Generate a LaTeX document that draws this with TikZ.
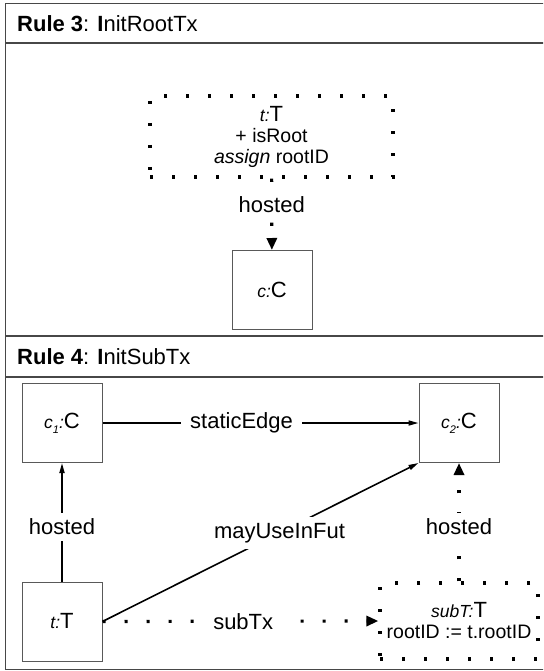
\documentclass[tikz,border=0pt]{standalone}
\usepackage{fontspec}
\setmainfont{Liberation Sans}
\usetikzlibrary{arrows.meta}

% object name: small italic prefix, larger type letter
\newcommand\objnm[2]{{\fontsize{17.5}{20}\selectfont\itshape #1}{\fontsize{22}{24}\selectfont #2}}
\newcommand\subidx[1]{\raisebox{-5pt}{\fontsize{11}{11}\selectfont\itshape #1}}

\tikzset{
  frame/.style={draw=black!72, line width=1.5pt},
  objbox/.style={draw=black!65, line width=1pt, minimum width=80pt, minimum height=79pt,
    inner sep=0pt},
  newbox/.style={draw=black, line width=3.2pt, dash pattern=on 3.2pt off 18.8pt,
    inner sep=0pt, align=center, font=\fontsize{19.5}{21}\selectfont},
  edge/.style={draw=black, line width=1.6pt, -{Triangle[length=10pt,width=5pt]}},
  newedge/.style={draw=black, line width=3.2pt, dash pattern=on 3.2pt off 18.8pt,
    -{Triangle[length=12pt,width=10pt]}},
  lbl/.style={fill=white, inner xsep=9pt, inner ysep=6pt, font=\fontsize{22}{24}\selectfont},
  title/.style={anchor=west, inner sep=0pt, font=\fontsize{22}{24}\selectfont},
}

\begin{document}
\begin{tikzpicture}[x=1pt,y=-1pt]
\useasboundingbox (0,0) rectangle (543,671);
\clip (0,0) rectangle (543,671);

% rule frames
\draw[frame] (5.5,3.5) rectangle (600,669.5);
\draw[frame] (5.5,43) -- (600,43);
\draw[frame] (5.5,336) -- (600,336);
\draw[frame] (5.5,377) -- (600,377);

\node[title] (h3) at (17,24) {\textbf{Rule 3}: \textbf{I}nitRootTx};
\node[title] (h4) at (17,357) {\textbf{Rule 4}: \textbf{I}nitSubTx};

% Rule 3: InitRootTx
\node[newbox, minimum width=243pt, minimum height=81pt] (t3) at (271.5,136.5)
  {\objnm{t:}{T}\\+ isRoot\\\textit{assign} rootID};
\node[objbox] (c3) at (272,290) {\objnm{c:}{C}};
\draw[newedge] (t3) -- node[lbl, pos=0.37] (l3) {hosted} (c3);

% Rule 4: InitSubTx
\node[objbox] (c1) at (62,423) {\objnm{c\subidx{1}:}{C}};
\node[objbox] (c2) at (459,423) {\objnm{c\subidx{2}:}{C}};
\node[objbox] (t4) at (62,621.5) {\objnm{t:}{T}};
\node[newbox, minimum width=158pt, minimum height=76pt] (sub) at (459,621)
  {\objnm{subT:}{T}\\rootID := t.rootID};

\draw[edge] (c1) -- node[lbl, pos=0.44] (ls) {staticEdge} (c2);
\draw[edge] (t4) -- node[lbl, pos=0.46] (lh1) {hosted} (c1);
\draw[edge] (t4.east) -- node[lbl, pos=0.56] (lm) {mayUseInFut} (c2.south west);
\draw[newedge] (t4.east) -- node[lbl, pos=0.51] (lt) {subTx} (sub.west);
\draw[newedge] (sub) -- node[lbl, pos=0.46] (lh2) {hosted} (c2);
\end{tikzpicture}
\end{document}
